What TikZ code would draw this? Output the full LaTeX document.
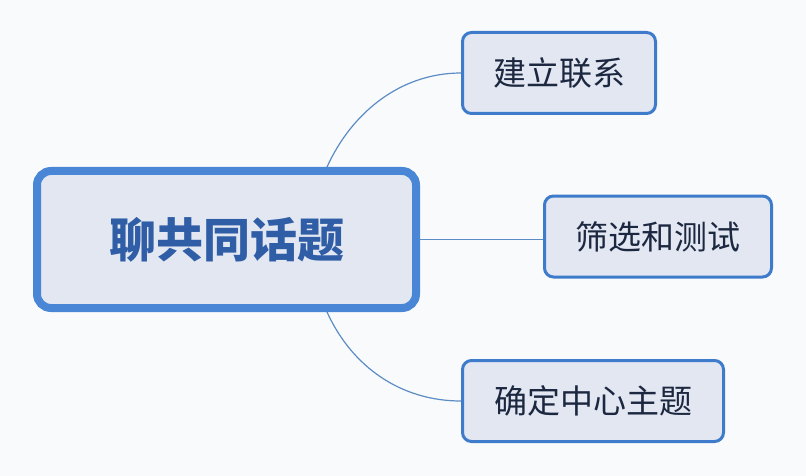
\documentclass[tikz,border=0pt]{standalone}
\usepackage{fontspec}
\newfontfamily\cjk{Noto Sans CJK SC}
\definecolor{mainblue}{HTML}{4A86D6}
\definecolor{kidblue}{HTML}{3F7BCB}
\definecolor{boxfill}{HTML}{E2E7F2}
\definecolor{titleblue}{HTML}{2F5DA6}
\definecolor{kidtext}{HTML}{1C2740}
\definecolor{linkblue}{HTML}{5B8CC4}
\definecolor{paper}{HTML}{F9FAFC}
\begin{document}
\begin{tikzpicture}[x=1pt,y=-1pt,
	topic/.style={draw=mainblue,line width=8pt,fill=boxfill,rounded corners=14pt,minimum width=379pt,minimum height=137pt,inner sep=0pt,font=\cjk\bfseries\fontsize{47}{50}\selectfont,text=titleblue},
	sub/.style={draw=kidblue,line width=3pt,fill=boxfill,rounded corners=9pt,minimum height=81pt,inner sep=0pt,font=\cjk\fontsize{33}{36}\selectfont,text=kidtext},
	link/.style={draw=linkblue,line width=1.2pt}]
		\fill[paper] (0,0) rectangle (806,476);
		\node[topic] (talk) at (226.5,239.5) {聊共同话题};
		\node[sub,minimum width=193pt] (contact) at (559,73) {建立联系};
		\node[sub,minimum width=227pt] (filter) at (658,236.5) {筛选和测试};
		\node[sub,minimum width=261pt] (theme) at (593,401) {确定中心主题};
		% branches
		\draw[link] ([xshift=-93pt]talk.north east) .. controls +(25,-55) and +(-60,0) .. (contact.west);
		\draw[link] (talk.east) -- (talk.east -| filter.west);
		\draw[link] ([xshift=-93pt]talk.south east) .. controls +(25,55) and +(-60,0) .. (theme.west);
	\end{tikzpicture}
\end{document}
